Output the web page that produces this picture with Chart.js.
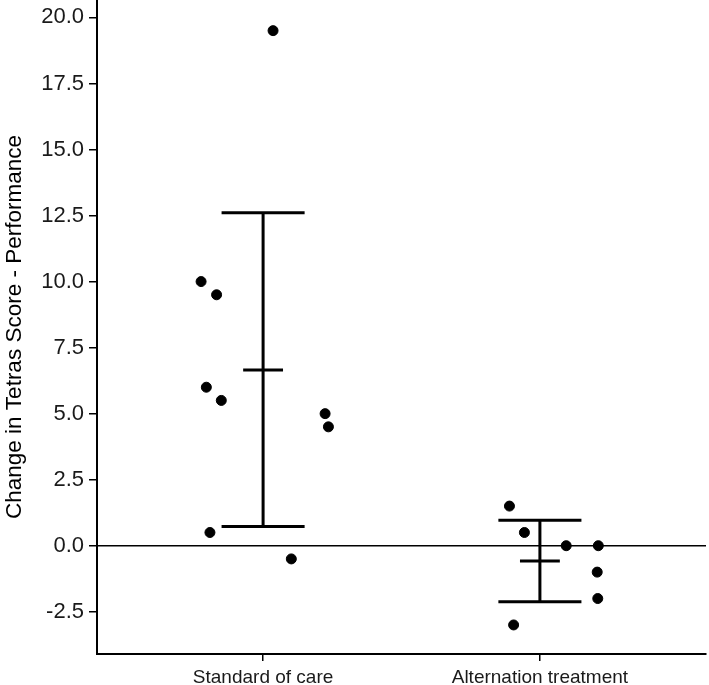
<!DOCTYPE html>
<html>
<head>
<meta charset="utf-8">
<script src="https://cdn.jsdelivr.net/npm/chart.js@4"></script>
<style>
    body { margin: 0; background: #fff; }
    #wrap { width: 709px; height: 685px; }
</style>
</head>
<body>
<div id="wrap"><canvas id="myChart"></canvas></div>
<script>
const categories = ['Standard of care', 'Alternation treatment'];
const categoryPos = [1, 2];

// jittered x positions and values
const standardX = [1.036, 0.776, 0.832, 0.795, 0.849, 1.224, 1.236, 0.808, 1.102];
const standardY = [19.5, 10.0, 9.5, 6.0, 5.5, 5.0, 4.5, 0.5, -0.5];
const alternationX = [1.890, 1.944, 2.095, 2.211, 2.207, 2.209, 1.905];
const alternationY = [1.5, 0.5, 0.0, 0.0, -1.0, -2.0, -3.0];

// mean and error bar ends per group
const groupMeans = [6.65, -0.58];
const groupUpper = [12.61, 0.96];
const groupLower = [0.73, -2.12];

const yTicks = [-2.5, 0.0, 2.5, 5.0, 7.5, 10.0, 12.5, 15.0, 17.5, 20.0];

const FONT = "'Liberation Sans', Arial, sans-serif";

function toPoints(xs, ys) {
    return xs.map((x, i) => ({ x: x, y: ys[i] }));
}

const zeroLine = {
    id: 'zeroLine',
    beforeDatasetsDraw(chart) {
        const { ctx, chartArea, scales } = chart;
        const y = scales.y.getPixelForValue(0);
        ctx.save();
        ctx.strokeStyle = '#000';
        ctx.lineWidth = 1.5;
        ctx.beginPath();
        ctx.moveTo(chartArea.left, y);
        ctx.lineTo(chartArea.right, y);
        ctx.stroke();
        ctx.restore();
    }
};

const errorBars = {
    id: 'errorBars',
    afterDatasetsDraw(chart) {
        const { ctx, scales } = chart;
        const capHalf = 0.15;
        const meanHalf = 0.072;
        ctx.save();
        ctx.strokeStyle = '#000';
        ctx.lineWidth = 3;
        categoryPos.forEach((c, i) => {
            const xc = scales.x.getPixelForValue(c);
            const yu = scales.y.getPixelForValue(groupUpper[i]);
            const yl = scales.y.getPixelForValue(groupLower[i]);
            const ym = scales.y.getPixelForValue(groupMeans[i]);
            ctx.beginPath();
            ctx.moveTo(xc, yu);
            ctx.lineTo(xc, yl);
            ctx.moveTo(scales.x.getPixelForValue(c - capHalf), yu);
            ctx.lineTo(scales.x.getPixelForValue(c + capHalf), yu);
            ctx.moveTo(scales.x.getPixelForValue(c - capHalf), yl);
            ctx.lineTo(scales.x.getPixelForValue(c + capHalf), yl);
            ctx.moveTo(scales.x.getPixelForValue(c - meanHalf), ym);
            ctx.lineTo(scales.x.getPixelForValue(c + meanHalf), ym);
            ctx.stroke();
        });
        ctx.restore();
    }
};

const ctx = document.getElementById('myChart').getContext('2d');
const chart = new Chart(ctx, {
    type: 'scatter',
    data: {
        datasets: [{
            label: categories[0],
            data: toPoints(standardX, standardY),
            backgroundColor: '#000',
            borderColor: '#000',
            pointRadius: 5
        }, {
            label: categories[1],
            data: toPoints(alternationX, alternationY),
            backgroundColor: '#000',
            borderColor: '#000',
            pointRadius: 5
        }]
    },
    options: {
        responsive: true,
        maintainAspectRatio: false,
        animation: false,
        layout: { autoPadding: false, padding: { top: 0, right: 3, bottom: 0, left: 0 } },
        plugins: {
            legend: { display: false },
            tooltip: { enabled: false }
        },
        scales: {
            x: {
                type: 'linear',
                min: 0.4,
                max: 2.6,
                afterBuildTicks: axis => { axis.ticks = categoryPos.map(v => ({ value: v })); },
                afterFit: axis => {
                    axis.height = 31;
                    axis.paddingLeft = 0;
                    axis.paddingRight = 0;
                },
                ticks: {
                    callback: (v) => categories[categoryPos.indexOf(v)],
                    color: '#1a1a1a',
                    font: { family: FONT, size: 19 },
                    padding: 5,
                    maxRotation: 0
                },
                grid: { drawOnChartArea: false, drawTicks: true, tickLength: 7, color: '#000', lineWidth: 1.5 },
                border: { display: true, color: '#000', width: 2 }
            },
            y: {
                min: -4.1,
                max: 20.66,
                afterBuildTicks: axis => { axis.ticks = yTicks.map(v => ({ value: v })); },
                afterFit: axis => {
                    axis.width = 97;
                    axis.paddingTop = 0;
                    axis.paddingBottom = 0;
                },
                ticks: {
                    callback: (v) => v.toFixed(1),
                    color: '#1a1a1a',
                    font: { family: FONT, size: 22 },
                    padding: 5
                },
                grid: { drawOnChartArea: false, drawTicks: true, tickLength: 8, color: '#000', lineWidth: 1.5 },
                border: { display: true, color: '#000', width: 2 },
                title: {
                    display: true,
                    text: 'Change in Tetras Score - Performance',
                    color: '#000',
                    font: { family: FONT, size: 22.5 },
                    padding: { top: 1, bottom: 0 }
                }
            }
        }
    },
    plugins: [zeroLine, errorBars]
});
</script>
</body>
</html>
